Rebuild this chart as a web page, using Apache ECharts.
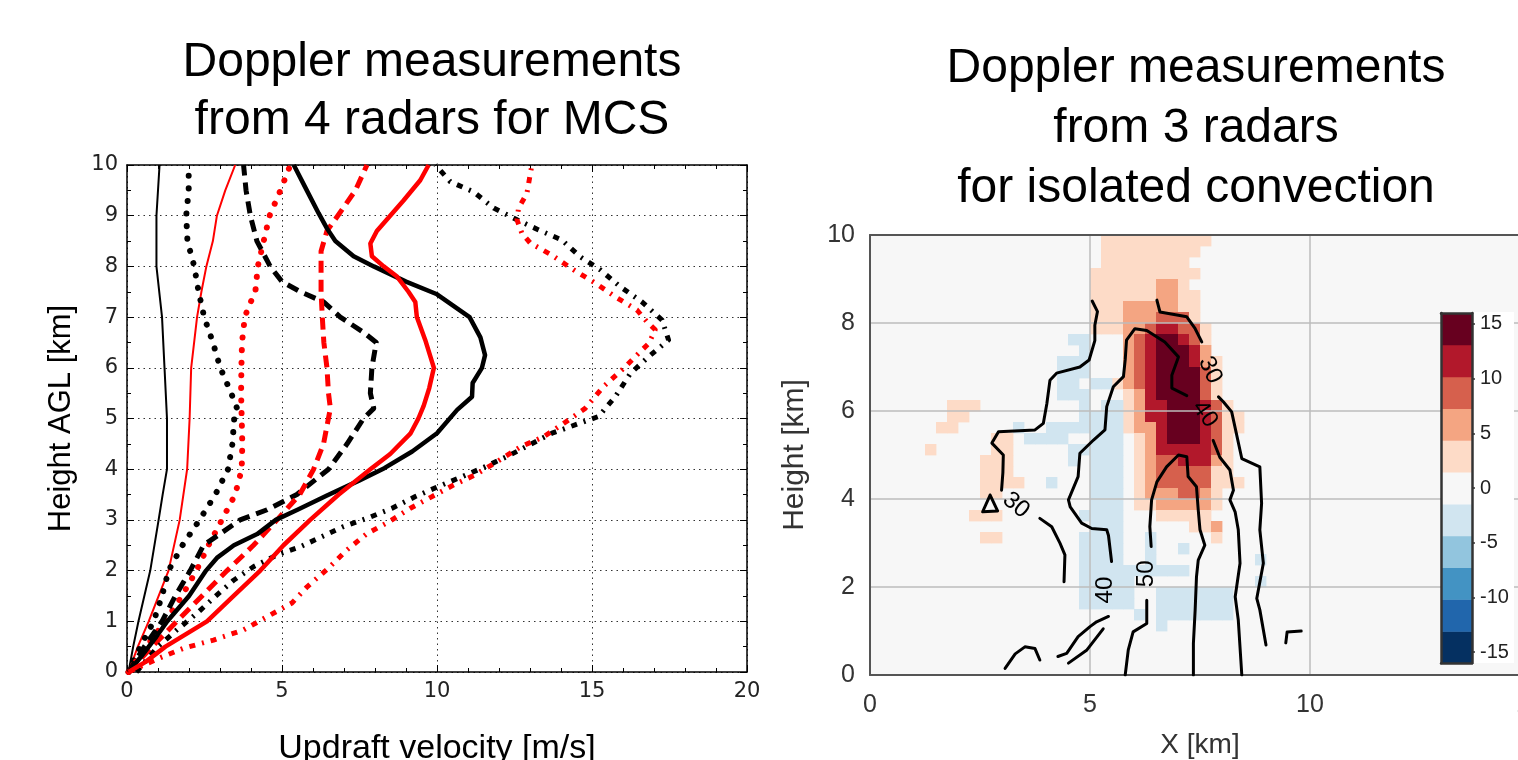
<!DOCTYPE html>
<html><head><meta charset="utf-8">
<script src="https://cdn.jsdelivr.net/npm/echarts@6/dist/echarts.min.js"></script>
<style>html,body{margin:0;padding:0;background:#fff}#c{width:1518px;height:760px}</style>
</head><body><div id="c"></div><script>
// ---------------- LEFT PANEL DATA: [updraft velocity m/s, height km] ----------------
const blackThin = [[0.05,0],[0.2,0.5],[0.37,1.0],[0.75,2.0],[1.02,3.0],[1.15,3.5],[1.29,4.0],[1.29,5.0],[1.21,6.0],[1.13,7.0],[0.95,8.0],[0.95,9.0],[1.05,10.0]];
const redThin = [[0.05,0],[0.35,0.5],[0.7,1.0],[1.34,2.0],[1.7,3.0],[1.94,4.0],[2.02,5.0],[2.07,6.0],[2.26,7.0],[2.4,7.5],[2.56,8.0],[2.77,8.5],[2.9,9.0],[3.17,9.5],[3.49,10.0]];
const blackDotted = [[0.05,0],[0.43,0.5],[0.86,1.0],[1.13,1.5],[1.34,2.0],[1.79,2.5],[2.34,3.0],[2.85,3.5],[3.26,4.0],[3.4,4.5],[3.46,5.0],[3.55,5.2],[3.36,5.5],[3.01,6.0],[2.77,6.5],[2.49,7.0],[2.31,7.5],[2.17,8.0],[1.95,8.5],[1.91,9.0],[1.99,9.5],[1.99,10.0]];
const redDotted = [[0.05,0],[0.62,0.5],[1.24,1.0],[1.77,1.5],[2.24,2.0],[2.63,2.5],[3.06,3.0],[3.49,3.5],[3.7,4.0],[3.72,4.5],[3.7,5.0],[3.68,5.5],[3.69,6.0],[3.71,6.5],[3.8,7.0],[3.92,7.2],[4.14,7.5],[4.22,8.0],[4.41,8.5],[4.6,9.0],[4.95,9.5],[5.27,10.0]];
const blackDashed = [[0.05,0],[0.56,0.5],[1.13,1.0],[1.56,1.5],[2.04,2.0],[2.47,2.5],[3.65,3.0],[4.52,3.2],[5.48,3.5],[6.5,4.0],[7.1,4.5],[7.63,5.0],[7.96,5.2],[7.85,5.5],[7.9,6.0],[8.04,6.5],[7.63,6.7],[6.88,7.0],[6.34,7.3],[5.59,7.5],[5.0,7.7],[4.62,8.0],[4.19,8.5],[3.98,9.0],[3.84,9.5],[3.76,10.0]];
const redDashed = [[0.05,0],[0.81,0.5],[1.61,1.0],[2.42,1.5],[3.23,2.0],[4.08,2.5],[4.84,3.0],[5.57,3.5],[6.02,4.0],[6.34,4.5],[6.56,5.2],[6.5,5.5],[6.45,6.0],[6.35,6.5],[6.3,7.0],[6.26,7.5],[6.26,8.3],[6.45,8.7],[6.8,9.0],[7.37,9.5],[7.74,10.0]];
const blackThick = [[0.05,0],[0.45,0.3],[0.95,0.7],[1.3,1.0],[2.0,1.5],[2.55,2.0],[2.9,2.25],[3.45,2.5],[4.2,2.72],[4.8,3.0],[5.5,3.2],[6.45,3.48],[7.5,3.78],[8.3,4.02],[9.2,4.35],[10.0,4.71],[10.65,5.17],[11.13,5.43],[11.15,5.7],[11.45,6.0],[11.55,6.25],[11.4,6.6],[11.05,7.0],[10.0,7.45],[9.0,7.7],[7.96,8.0],[7.31,8.2],[6.72,8.5],[6.45,8.75],[6.18,9.05],[5.8,9.5],[5.38,10.0]];
const redThick = [[0.05,0],[0.6,0.2],[1.24,0.5],[2.58,1.0],[3.44,1.5],[4.3,2.0],[5.05,2.5],[5.91,3.0],[6.83,3.5],[7.85,4.0],[8.49,4.3],[9.14,4.7],[9.4,5.0],[9.57,5.25],[9.75,5.6],[9.9,6.0],[9.62,6.55],[9.35,7.0],[9.3,7.3],[9.08,7.5],[8.71,7.8],[8.28,8.0],[7.9,8.2],[7.85,8.45],[8.06,8.7],[8.49,9.0],[8.92,9.3],[9.46,9.7],[9.73,10.0]];
const blackDashDot = [[0.3,0],[1.0,0.5],[1.61,0.83],[2.26,1.16],[2.85,1.49],[3.44,1.81],[4.09,2.08],[4.84,2.31],[5.59,2.47],[6.29,2.67],[6.99,2.87],[7.74,3.03],[8.55,3.23],[9.3,3.46],[10.05,3.66],[10.8,3.85],[11.56,4.05],[12.26,4.25],[13.71,4.71],[15.21,5.04],[15.75,5.43],[16.24,5.89],[16.83,6.22],[17.47,6.55],[17.26,6.94],[16.61,7.3],[15.91,7.6],[15.27,7.93],[14.62,8.19],[14.03,8.52],[13.28,8.72],[12.58,8.92],[11.83,9.15],[11.18,9.47],[10.43,9.67],[9.95,10.0]];
const redDashDot = [[0.05,0],[1.02,0.27],[1.83,0.47],[2.79,0.63],[3.76,0.83],[4.52,1.09],[5.32,1.36],[5.81,1.68],[6.5,2.05],[7.1,2.41],[7.74,2.73],[8.44,2.96],[9.14,3.23],[9.84,3.46],[10.54,3.69],[11.24,3.89],[11.94,4.15],[12.69,4.44],[13.44,4.64],[14.08,4.9],[14.78,5.2],[15.37,5.63],[15.97,5.96],[16.56,6.32],[16.83,6.48],[17.04,6.75],[16.77,6.91],[16.45,7.14],[15.75,7.4],[15.11,7.67],[14.41,7.93],[13.71,8.22],[13.01,8.46],[12.74,8.65],[12.58,8.92],[12.63,9.15],[12.9,9.44],[13.06,10.0]];

// ---------------- RIGHT PANEL DATA ----------------
// vertical velocity cells, 0.25 km grid: [row from top, first column, last column, value m/s]
const heatRuns = [
 [0,21,30,3],
 [1,21,29,3],
 [2,21,28,3],
 [3,20,29,3],
 [4,20,25,3],[4,26,27,6],[4,28,28,3],
 [5,20,25,3],[5,26,27,6],[5,28,29,3],
 [6,20,22,3],[6,23,27,6],[6,28,29,3],
 [7,20,22,3],[7,23,25,6],[7,26,28,9],[7,29,29,3],
 [8,20,22,3],[8,23,24,6],[8,25,25,9],[8,26,27,12],[8,28,29,9],[8,30,30,3],
 [9,23,23,6],[9,24,24,9],[9,25,25,12],[9,26,27,14.5],[9,28,28,12],[9,29,29,9],[9,30,30,3],[9,18,19,-3],
 [10,23,23,6],[10,24,24,9],[10,25,25,12],[10,26,28,14.5],[10,29,29,12],[10,30,30,6],[10,19,19,-3],
 [11,23,23,6],[11,24,24,9],[11,25,25,12],[11,26,28,14.5],[11,29,29,12],[11,30,30,6],[11,31,31,3],[11,17,19,-3],
 [12,23,23,6],[12,24,24,9],[12,25,25,12],[12,26,29,14.5],[12,30,30,9],[12,31,31,3],[12,17,19,-3],
 [13,22,22,3],[13,23,23,6],[13,24,24,9],[13,25,25,12],[13,26,29,14.5],[13,30,30,9],[13,31,31,3],[13,17,18,-3],[13,20,21,-3],
 [14,23,23,3],[14,24,24,6],[14,25,25,12],[14,26,29,14.5],[14,30,30,9],[14,31,31,3],[14,17,19,-3],
 [15,23,23,3],[15,24,24,6],[15,25,26,12],[15,27,29,14.5],[15,30,30,12],[15,31,31,9],[15,32,32,3],[15,7,9,3],[15,19,19,-3],[15,21,22,-3],
 [16,23,23,3],[16,24,24,6],[16,25,26,12],[16,27,29,14.5],[16,30,30,12],[16,31,31,9],[16,32,33,3],[16,7,8,3],[16,19,22,-3],
 [17,23,23,3],[17,24,25,6],[17,26,26,12],[17,27,29,14.5],[17,30,30,12],[17,31,31,9],[17,32,33,3],[17,6,7,3],[17,13,13,-3],[17,16,22,-3],
 [18,24,24,3],[18,25,25,6],[18,26,26,12],[18,27,29,14.5],[18,30,30,12],[18,31,31,9],[18,32,32,3],[18,11,12,3],[18,14,17,-3],[18,20,22,-3],
 [19,24,24,3],[19,25,25,6],[19,26,30,12],[19,31,31,9],[19,32,32,3],[19,5,5,3],[19,11,12,3],[19,18,22,-3],
 [20,24,24,3],[20,25,25,6],[20,26,27,9],[20,28,30,12],[20,31,31,6],[20,32,32,3],[20,10,12,3],[20,18,18,-3],[20,20,22,-3],
 [21,24,24,3],[21,25,25,6],[21,26,30,9],[21,31,32,3],[21,10,12,3],[21,20,22,-3],
 [22,24,24,3],[22,25,25,6],[22,26,30,9],[22,31,33,3],[22,10,13,3],[22,16,16,-3],[22,20,22,-3],
 [23,24,24,3],[23,25,27,6],[23,28,29,9],[23,30,30,6],[23,31,31,3],[23,10,11,3],[23,20,22,-3],
 [24,24,25,3],[24,26,30,6],[24,31,31,3],[24,20,22,-3],
 [25,26,30,3],[25,9,11,3],[25,19,22,-3],
 [26,29,30,3],[26,31,31,6],[26,20,22,-3],
 [27,31,31,3],[27,10,11,3],[27,19,22,-3],[27,25,25,-3],
 [28,19,22,-3],[28,25,25,-3],[28,28,28,-3],
 [29,19,22,-3],[29,25,25,-3],[29,35,35,-3],
 [30,19,28,-3],
 [31,19,23,-3],[31,35,35,-3],
 [32,19,23,-3],[32,26,32,-3],
 [33,19,23,-3],[33,26,32,-3],
 [34,24,24,-3],[34,26,32,-3],
 [35,26,26,-3]
];
// reflectivity contours (dBZ), [x km, height km] polylines
const contourSegs = [
 [[5.05,8.5],[5.17,8.26],[5.11,7.95],[5.11,7.6],[4.98,7.16],[4.77,7.0],[4.24,6.86],[4.09,6.7],[4.02,6.17],[3.94,5.72],[3.75,5.57],[2.92,5.53],[2.77,5.27],[3.03,5.0],[3.02,4.6],[2.99,4.2]],
 [[3.86,3.56],[4.13,3.37],[4.32,2.99],[4.43,2.73],[4.41,2.12]],
 [[2.73,4.09],[2.56,3.71],[2.9,3.73],[2.73,4.09]],
 [[6.52,8.52],[6.59,8.25],[7.2,8.14],[7.39,7.87],[7.54,7.57]],
 [[7.92,6.32],[8.03,6.21],[8.22,5.98],[8.45,4.92],[8.86,4.73],[8.9,3.9],[8.86,3.3],[8.94,2.54],[8.79,1.74],[8.86,1.48],[9.0,0.68]],
 [[9.45,0.73],[9.48,0.98],[9.8,1.0]],
 [[7.2,6.35],[6.86,6.52],[6.86,6.81],[7.01,7.23],[6.7,7.57],[6.29,7.83],[6.02,7.87],[5.83,7.61],[5.8,7.16],[5.76,6.78],[5.53,6.55],[5.38,6.1],[5.34,5.57],[5.08,5.34],[4.77,5.04],[4.73,4.51],[4.51,3.98],[4.55,3.82],[4.81,3.45],[5.04,3.33],[5.38,3.3],[5.42,3.17],[5.49,2.58]],
 [[7.8,5.33],[7.95,4.95],[8.18,4.66],[8.26,4.2],[8.18,3.98],[8.3,3.7],[8.37,3.3],[8.41,2.54],[8.3,1.78],[8.37,1.25],[8.45,0.0]],
 [[5.42,1.33],[5.15,1.21],[5.0,1.1],[4.73,0.87],[4.47,0.49],[4.27,0.42]],
 [[4.51,0.27],[4.93,0.57],[5.3,1.05]],
 [[3.07,0.15],[3.3,0.48],[3.52,0.64],[3.75,0.6],[3.86,0.34]],
 [[6.39,2.92],[6.36,3.37],[6.4,3.98],[6.52,4.39],[6.74,4.73],[7.01,5.0],[7.2,4.96],[7.23,4.51],[7.42,4.28],[7.46,3.75],[7.5,3.3],[7.61,2.95],[7.46,2.61],[7.42,2.23],[7.39,1.48],[7.35,0.72],[7.35,0.0]],
 [[6.29,1.7],[6.29,1.17],[5.98,0.98],[5.87,0.57],[5.8,0.0]]
];
// contour labels: [x km, height km, text, angle deg]
const contourLabels = [[3.32,3.86,'30',-40],[7.73,6.93,'30',-65],[7.61,5.93,'40',-55],[5.34,1.93,'40',90],[6.27,2.3,'50',90]];
const cellSize = 0.25, heatTop = 10;
const cbMin = -16, cbMax = 16;
const cbTicks = [-15,-10,-5,0,5,10,15];
const palette = ['#053061','#2166ac','#4393c3','#92c5de','#d1e5f0','#f7f7f7','#fddbc7','#f4a582','#d6604d','#b2182b','#67001f'];

// ---------------- build ----------------
const heatCells = [];
heatRuns.forEach(r => { for (let c = r[1]; c <= r[2]; c++) heatCells.push([c*cellSize, heatTop-(r[0]+1)*cellSize, r[3]]); });
const bandW = (cbMax-cbMin)/palette.length;
const cbBands = palette.map((col,i) => [cbMin+i*bandW, cbMin+(i+1)*bandW, i]);
function colorOf(v){ return palette[Math.max(0, Math.min(palette.length-1, Math.floor((v-cbMin)/bandW)))]; }

const DV = '"DejaVu Sans"', LS = '"Liberation Sans", Arial';
const chart = echarts.init(document.getElementById('c'));

function lineS(data, color, width, type, cap, z){
  return {type:'line', xAxisIndex:0, yAxisIndex:0, data:data, showSymbol:false, symbol:'none', z:z||2, animation:false,
    lineStyle:{color:color, width:width, type:type, cap:cap||'butt', join:'round'}};
}
const leftSeries = [
  lineS(blackThin,'#000',2,'solid'),
  lineS(redThin,'#ff0000',2,'solid'),
  lineS(blackDotted,'#000',6,[0.1,12.5],'round'),
  lineS(redDotted,'#ff0000',6,[0.1,12.5],'round'),
  lineS(blackDashed,'#000',5,[12,7]),
  lineS(redDashed,'#ff0000',5,[12,7]),
  lineS(blackDashDot,'#000',5,[6,7,2,7]),
  lineS(redDashDot,'#ff0000',5,[6,7,2,7]),
  lineS(blackThick,'#000',4.5,'solid'),
  lineS(redThick,'#ff0000',4.5,'solid')
];

const contourSeries = contourSegs.map(seg => ({type:'line', xAxisIndex:2, yAxisIndex:2, data:seg, showSymbol:false, symbol:'none', z:6, animation:false,
   lineStyle:{color:'#000', width:3, join:'round', cap:'round'}}));

const leftMinor = {show:true, splitNumber:5, length:4, lineStyle:{color:'#000', width:1}};
const noZero = {onZero:false};
const option = {
  animation:false,
  backgroundColor:'#fff',
  grid:[
    {left:127, top:165, width:620, height:507, containLabel:false, outerBoundsMode:'none'},
    {left:870, top:235, width:660, height:440, show:true, backgroundColor:'#f7f7f7', borderWidth:0, containLabel:false, outerBoundsMode:'none'},
    {left:1441, top:313, width:31, height:350, z:60, containLabel:false, outerBoundsMode:'none'}
  ],
  xAxis:[
    {gridIndex:0, type:'value', min:0, max:20, interval:5, position:'bottom',
     axisLine:{show:true, onZero:false, lineStyle:{color:'#000', width:1.5}}, axisTick:{show:true, inside:true, length:7, lineStyle:{color:'#000'}},
     minorTick:leftMinor,
     axisLabel:{fontFamily:DV, fontSize:21, color:'#222', margin:9},
     splitLine:{show:true, lineStyle:{color:'#333', width:1, type:[1.5,4]}},
     name:'Updraft velocity [m/s]', nameLocation:'middle', nameGap:60, nameTextStyle:{fontFamily:LS, fontSize:34, color:'#000'}},
    {gridIndex:0, type:'value', min:0, max:20, interval:5, position:'top',
     axisLine:{show:true, onZero:false, lineStyle:{color:'#000', width:1.5}}, axisTick:{show:true, inside:true, length:7, lineStyle:{color:'#000'}},
     minorTick:leftMinor, axisLabel:{show:false}, splitLine:{show:false}},
    {gridIndex:1, type:'value', min:0, max:15, interval:5, position:'bottom', z:5,
     axisLine:{show:true, onZero:false, lineStyle:{color:'#555', width:2}}, axisTick:{show:false},
     axisLabel:{fontFamily:LS, fontSize:25, color:'#333', margin:18},
     splitLine:{show:true, lineStyle:{color:'#bdbdbd', width:1.5}},
     name:'X [km]', nameLocation:'middle', nameGap:56, nameTextStyle:{fontFamily:LS, fontSize:28, color:'#333'}},
    {gridIndex:1, type:'value', min:0, max:15, position:'top', z:5,
     axisLine:{show:true, onZero:false, lineStyle:{color:'#555', width:2}}, axisTick:{show:false}, axisLabel:{show:false}, splitLine:{show:false}},
    {gridIndex:2, type:'value', min:0, max:1, position:'bottom', z:62,
     axisLine:{show:true, onZero:false, lineStyle:{color:'#333', width:2.5}}, axisTick:{show:false}, axisLabel:{show:false}, splitLine:{show:false}},
    {gridIndex:2, type:'value', min:0, max:1, position:'top', z:62,
     axisLine:{show:true, onZero:false, lineStyle:{color:'#333', width:2.5}}, axisTick:{show:false}, axisLabel:{show:false}, splitLine:{show:false}}
  ],
  yAxis:[
    {gridIndex:0, type:'value', min:0, max:10, interval:1, position:'left',
     axisLine:{show:true, onZero:false, lineStyle:{color:'#000', width:1.5}}, axisTick:{show:true, inside:true, length:7, lineStyle:{color:'#000'}},
     minorTick:{show:true, splitNumber:2, length:4, lineStyle:{color:'#000', width:1}},
     axisLabel:{fontFamily:DV, fontSize:21, color:'#222', margin:9},
     splitLine:{show:true, lineStyle:{color:'#333', width:1, type:[1.5,4]}},
     name:'Height AGL [km]', nameLocation:'middle', nameGap:50, nameTextStyle:{fontFamily:LS, fontSize:31, color:'#000'}},
    {gridIndex:0, type:'value', min:0, max:10, interval:1, position:'right',
     axisLine:{show:true, onZero:false, lineStyle:{color:'#000', width:1.5}}, axisTick:{show:true, inside:true, length:7, lineStyle:{color:'#000'}},
     minorTick:{show:true, splitNumber:2, length:4, lineStyle:{color:'#000', width:1}}, axisLabel:{show:false}, splitLine:{show:false}},
    {gridIndex:1, type:'value', min:0, max:10, interval:2, position:'left', z:5,
     axisLine:{show:true, onZero:false, lineStyle:{color:'#555', width:2}}, axisTick:{show:false},
     axisLabel:{fontFamily:LS, fontSize:25, color:'#333', margin:15},
     splitLine:{show:true, lineStyle:{color:'#bdbdbd', width:1.5}},
     name:'Height [km]', nameLocation:'middle', nameGap:60, nameTextStyle:{fontFamily:LS, fontSize:30, color:'#333'}},
    {gridIndex:2, type:'value', min:cbMin, max:cbMax, position:'right', z:62,
     axisLine:{show:true, onZero:false, lineStyle:{color:'#333', width:2.5}},
     axisTick:{show:true, length:3, customValues:cbTicks, lineStyle:{color:'#333', width:1.5}},
     axisLabel:{fontFamily:LS, fontSize:20, color:'#222', margin:8, customValues:cbTicks},
     splitLine:{show:false}},
    {gridIndex:2, type:'value', min:cbMin, max:cbMax, position:'left', z:62,
     axisLine:{show:true, onZero:false, lineStyle:{color:'#333', width:2.5}}, axisTick:{show:false}, axisLabel:{show:false}, splitLine:{show:false}}
  ],
  graphic:[
    {type:'rect', z:50, shape:{x:1441, y:312, width:73, height:351}, style:{fill:'#ffffff'}},
    {type:'text', x:432, style:{text:'Doppler measurements\nfrom 4 radars for MCS', font:'48px "Liberation Sans", Arial', fill:'#000',
      textAlign:'center', align:'center', textVerticalAlign:'top', verticalAlign:'top', lineHeight:58}, top:34},
    {type:'text', x:1196, style:{text:'Doppler measurements\nfrom 3 radars\nfor isolated convection', font:'48px "Liberation Sans", Arial', fill:'#000',
      textAlign:'center', align:'center', textVerticalAlign:'top', verticalAlign:'top', lineHeight:60}, top:39}
  ],
  series: leftSeries.concat([
    {type:'custom', xAxisIndex:2, yAxisIndex:2, z:1, animation:false, data:heatCells, clip:true,
     renderItem:function(params, api){
       const x = api.value(0), y = api.value(1), v = api.value(2);
       const p0 = api.coord([x, y+cellSize]), p1 = api.coord([x+cellSize, y]);
       return {type:'rect', shape:{x:p0[0], y:p0[1], width:p1[0]-p0[0]+0.4, height:p1[1]-p0[1]+0.4}, style:{fill:colorOf(v)}};
     }}
  ]).concat(contourSeries).concat([
    {type:'custom', xAxisIndex:2, yAxisIndex:2, z:7, animation:false, data:contourLabels.map(d=>[d[0],d[1]]),
     renderItem:function(params, api){
       const d = contourLabels[params.dataIndex];
       const p = api.coord([d[0], d[1]]);
       return {type:'text', x:p[0], y:p[1], rotation:d[3]*Math.PI/180,
         style:{text:d[2], font:'24px "Liberation Sans", Arial', fill:'#000', textAlign:'center', align:'center', textVerticalAlign:'middle', verticalAlign:'middle'}};
     }},
    {type:'custom', xAxisIndex:4, yAxisIndex:3, z:61, animation:false, data:cbBands,
     renderItem:function(params, api){
       const lo = api.value(0), hi = api.value(1);
       const p0 = api.coord([0, hi]), p1 = api.coord([1, lo]);
       return {type:'rect', shape:{x:p0[0], y:p0[1], width:p1[0]-p0[0], height:p1[1]-p0[1]+0.5}, style:{fill:palette[params.dataIndex]}};
     }}
  ])
};
chart.setOption(option);
</script></body></html>
